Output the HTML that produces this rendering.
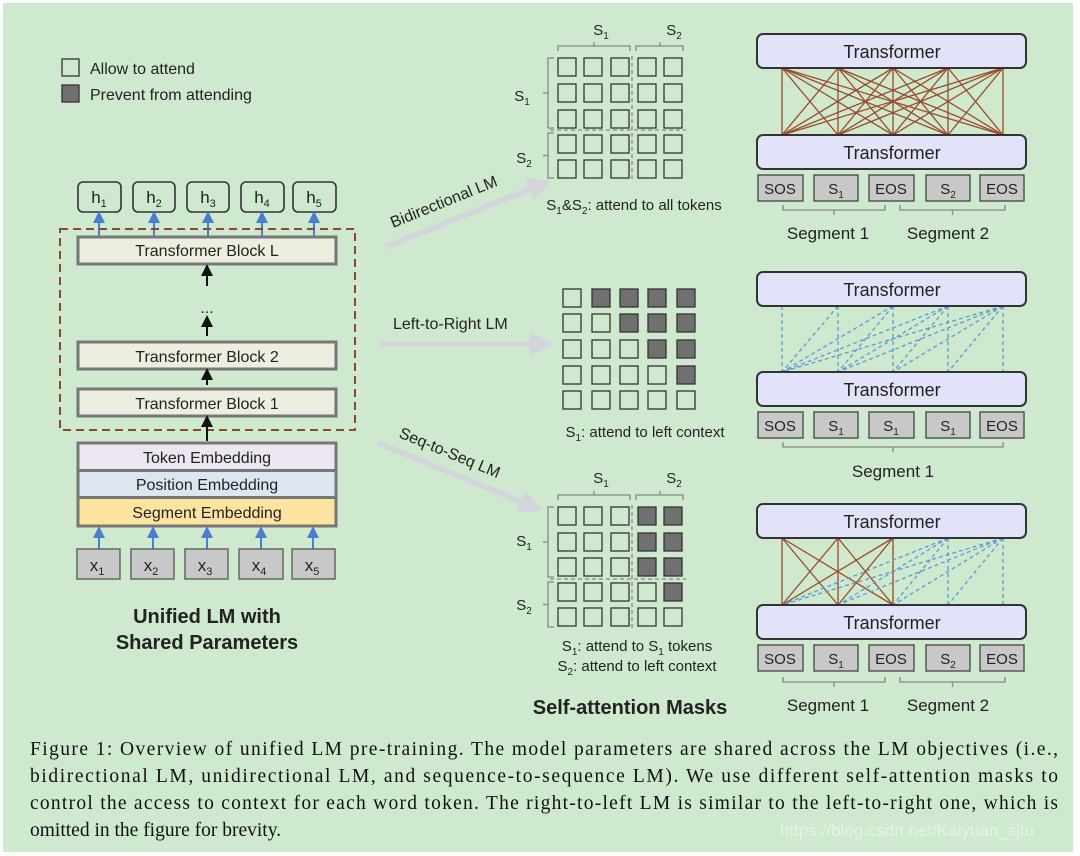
<!DOCTYPE html>
<html><head><meta charset="utf-8"><style>
html,body{margin:0;padding:0;background:#fff;}
svg{display:block;}
.t{font-family:"Liberation Sans",sans-serif;fill:#222;}
.c{font-family:"Liberation Serif",serif;fill:#111;font-size:19.5px;}
</style></head><body>
<svg id="s" width="1080" height="856" viewBox="0 0 1080 856" xmlns="http://www.w3.org/2000/svg">
<defs>
<marker id="ab" markerWidth="6" markerHeight="6" refX="3" refY="3" orient="auto"><path d="M0,0L6,3L0,6z" fill="#4a7fd0"/></marker>
<marker id="ak" markerWidth="6" markerHeight="6" refX="3" refY="3" orient="auto"><path d="M0,0L6,3L0,6z" fill="#111"/></marker>
<marker id="ag" markerWidth="4" markerHeight="4" refX="2" refY="2" orient="auto"><path d="M0,0L4,2L0,4z" fill="#d4d4dc"/></marker>
</defs>
<rect x="3" y="3" width="1070" height="849" fill="#cfe9cf"/>
<g id="g"></g>

<!-- legend -->
<rect x="62" y="59" width="17" height="17" fill="none" stroke="#333" stroke-width="1.3"/>
<rect x="62" y="85" width="17" height="17" fill="#707070" stroke="#333" stroke-width="1.3"/>
<text class="t" x="90" y="74" font-size="16">Allow to attend</text>
<text class="t" x="90" y="100" font-size="16">Prevent from attending</text>

<!-- h boxes -->
<g stroke="#333" stroke-width="1.6" fill="#cfe9cf">
<rect x="78" y="182" width="43" height="30" rx="5"/><rect x="133" y="182" width="42" height="30" rx="5"/><rect x="187" y="182" width="42" height="30" rx="5"/><rect x="241" y="182" width="43" height="30" rx="5"/><rect x="293" y="182" width="43" height="30" rx="5"/>
</g>
<g class="t" font-size="17" text-anchor="middle">
<text x="99" y="203">h<tspan font-size="11" dy="4">1</tspan></text>
<text x="154" y="203">h<tspan font-size="11" dy="4">2</tspan></text>
<text x="208" y="203">h<tspan font-size="11" dy="4">3</tspan></text>
<text x="262" y="203">h<tspan font-size="11" dy="4">4</tspan></text>
<text x="314" y="203">h<tspan font-size="11" dy="4">5</tspan></text>
</g>
<g stroke="#4a7fd0" stroke-width="2" marker-end="url(#ab)">
<line x1="99" y1="236" x2="99" y2="217"/><line x1="154" y1="236" x2="154" y2="217"/><line x1="208" y1="236" x2="208" y2="217"/><line x1="262" y1="236" x2="262" y2="217"/><line x1="314" y1="236" x2="314" y2="217"/>
<line x1="99" y1="549" x2="99" y2="532"/><line x1="153" y1="549" x2="153" y2="532"/><line x1="207" y1="549" x2="207" y2="532"/><line x1="261" y1="549" x2="261" y2="532"/><line x1="313" y1="549" x2="313" y2="532"/>
</g>
<rect x="60" y="229" width="295" height="201" fill="none" stroke="#8b4a2a" stroke-width="2" stroke-dasharray="8,5"/>
<g stroke="#777" stroke-width="3" fill="#eeeee0">
<rect x="78" y="237" width="258" height="27"/><rect x="78" y="342" width="258" height="27"/><rect x="78" y="389" width="258" height="27"/>
</g>
<g class="t" font-size="16" text-anchor="middle">
<text x="207" y="256">Transformer Block L</text>
<text x="207" y="362">Transformer Block 2</text>
<text x="207" y="409">Transformer Block 1</text>
<text x="207" y="313" font-size="16">...</text>
</g>
<g stroke="#111" stroke-width="2" marker-end="url(#ak)">
<line x1="207" y1="286" x2="207" y2="270"/><line x1="207" y1="336" x2="207" y2="321"/><line x1="207" y1="385" x2="207" y2="374"/><line x1="207" y1="441" x2="207" y2="421"/>
</g>
<rect x="79" y="444" width="256" height="26" fill="#ebe6f0"/>
<rect x="79" y="471" width="256" height="26" fill="#dde6f0"/>
<rect x="79" y="498" width="256" height="27" fill="#fde3a0"/>
<g stroke="#777" stroke-width="3" fill="none"><rect x="78" y="443" width="258" height="83"/><line x1="78" y1="470.5" x2="336" y2="470.5"/><line x1="78" y1="497.5" x2="336" y2="497.5"/></g>
<g class="t" font-size="16" text-anchor="middle">
<text x="207" y="463">Token Embedding</text>
<text x="207" y="490">Position Embedding</text>
<text x="207" y="518">Segment Embedding</text>
</g>
<g stroke="#555" stroke-width="1.3" fill="#c8c8c8">
<rect x="77" y="549" width="43" height="30"/><rect x="131" y="549" width="43" height="30"/><rect x="185" y="549" width="43" height="30"/><rect x="239" y="549" width="44" height="30"/><rect x="292" y="549" width="43" height="30"/>
</g>
<g class="t" font-size="17" text-anchor="middle" fill="#333">
<text x="97" y="571">x<tspan font-size="11" dy="4">1</tspan></text>
<text x="151" y="571">x<tspan font-size="11" dy="4">2</tspan></text>
<text x="205" y="571">x<tspan font-size="11" dy="4">3</tspan></text>
<text x="259" y="571">x<tspan font-size="11" dy="4">4</tspan></text>
<text x="312" y="571">x<tspan font-size="11" dy="4">5</tspan></text>
</g>
<g class="t" font-size="20" font-weight="bold" text-anchor="middle" fill="#111">
<text x="207" y="623">Unified LM with</text>
<text x="207" y="649">Shared Parameters</text>
</g>

<!-- arrows mid -->
<g stroke="#d4d4dc" stroke-width="6" marker-end="url(#ag)">
<line x1="386" y1="247" x2="540" y2="185"/>
<line x1="380" y1="344" x2="542" y2="344"/>
<line x1="378" y1="443" x2="532" y2="506"/>
</g>
<g class="t" font-size="16">
<text x="0" y="0" transform="translate(393,228) rotate(-22)">Bidirectional LM</text>
<text x="393" y="329">Left-to-Right LM</text>
<text x="0" y="0" transform="translate(398,437) rotate(22.5)">Seq-to-Seq LM</text>
</g>

<!-- grid labels -->
<g class="t" font-size="15" text-anchor="middle">
<text x="601" y="35">S<tspan font-size="10" dy="4">1</tspan></text>
<text x="674" y="35">S<tspan font-size="10" dy="4">2</tspan></text>
<text x="522" y="101">S<tspan font-size="10" dy="4">1</tspan></text>
<text x="524" y="163">S<tspan font-size="10" dy="4">2</tspan></text>
<text x="634" y="210">S<tspan font-size="10" dy="4">1</tspan><tspan dy="-4">&amp;S</tspan><tspan font-size="10" dy="4">2</tspan><tspan dy="-4">: attend to all tokens</tspan></text>
<text x="645" y="437">S<tspan font-size="10" dy="4">1</tspan><tspan dy="-4">: attend to left context</tspan></text>
<text x="601" y="483">S<tspan font-size="10" dy="4">1</tspan></text>
<text x="674" y="483">S<tspan font-size="10" dy="4">2</tspan></text>
<text x="524" y="546">S<tspan font-size="10" dy="4">1</tspan></text>
<text x="524" y="610">S<tspan font-size="10" dy="4">2</tspan></text>
<text x="637" y="651">S<tspan font-size="10" dy="4">1</tspan><tspan dy="-4">: attend to S</tspan><tspan font-size="10" dy="4">1</tspan><tspan dy="-4"> tokens</tspan></text>
<text x="637" y="671">S<tspan font-size="10" dy="4">2</tspan><tspan dy="-4">: attend to left context</tspan></text>
</g>
<text class="t" x="630" y="714" font-size="20" font-weight="bold" text-anchor="middle" fill="#111">Self-attention Masks</text>

<!-- transformers -->
<g stroke="#333" stroke-width="2" fill="#e2e2f8">
<rect x="757" y="34" width="269" height="34" rx="6"/><rect x="757" y="135" width="269" height="34" rx="6"/>
<rect x="757" y="272" width="269" height="34" rx="6"/><rect x="757" y="372" width="269" height="34" rx="6"/>
<rect x="757" y="504" width="269" height="34" rx="6"/><rect x="757" y="605" width="269" height="34" rx="6"/>
</g>
<g class="t" font-size="18" text-anchor="middle">
<text x="892" y="58">Transformer</text><text x="892" y="159">Transformer</text>
<text x="892" y="296">Transformer</text><text x="892" y="396">Transformer</text>
<text x="892" y="528">Transformer</text><text x="892" y="629">Transformer</text>
</g>
<g class="t" font-size="15" text-anchor="middle" fill="#333">
<text x="780" y="194">SOS</text><text x="836" y="194">S<tspan font-size="10" dy="4">1</tspan></text><text x="891" y="194">EOS</text><text x="948" y="194">S<tspan font-size="10" dy="4">2</tspan></text><text x="1002" y="194">EOS</text>
<text x="780" y="431">SOS</text><text x="836" y="431">S<tspan font-size="10" dy="4">1</tspan></text><text x="891" y="431">S<tspan font-size="10" dy="4">1</tspan></text><text x="948" y="431">S<tspan font-size="10" dy="4">1</tspan></text><text x="1002" y="431">EOS</text>
<text x="780" y="664">SOS</text><text x="836" y="664">S<tspan font-size="10" dy="4">1</tspan></text><text x="891" y="664">EOS</text><text x="948" y="664">S<tspan font-size="10" dy="4">2</tspan></text><text x="1002" y="664">EOS</text>
</g>
<g class="t" font-size="17" text-anchor="middle" fill="#333">
<text x="828" y="239">Segment 1</text><text x="948" y="239">Segment 2</text>
<text x="893" y="477">Segment 1</text>
<text x="828" y="711">Segment 1</text><text x="948" y="711">Segment 2</text>
</g>

<!-- caption -->
<g class="c">
<text x="30" y="755" textLength="1028" lengthAdjust="spacing">Figure 1: Overview of unified LM pre-training. The model parameters are shared across the LM objectives (i.e.,</text>
<text x="30" y="782" textLength="1028" lengthAdjust="spacing">bidirectional LM, unidirectional LM, and sequence-to-sequence LM). We use different self-attention masks to</text>
<text x="30" y="809" textLength="1028" lengthAdjust="spacing">control the access to context for each word token. The right-to-left LM is similar to the left-to-right one, which is</text>
<text x="30" y="836">omitted in the figure for brevity.</text>
</g>
<text x="780" y="836" font-family="Liberation Sans,sans-serif" font-size="17" fill="#e6f2e6">https://blog.csdn.net/Kaiyuan_sjtu</text>
</svg>
<script>
var g=document.getElementById('g'),NS='http://www.w3.org/2000/svg';
function el(n,a){var e=document.createElementNS(NS,n);for(var k in a)e.setAttribute(k,a[k]);g.appendChild(e);return e;}
function grid(xs,ys,dark){for(var r=0;r<5;r++)for(var c=0;c<5;c++)el('rect',{x:xs[c],y:ys[r],width:18,height:18,fill:dark(r,c)?'#707070':'none',stroke:'#333','stroke-width':1.3});}
var gx=[558,584,611,638,664];
grid(gx,[58,84,110,135,160],function(){return 0});
grid([563,592,620,648,677],[289,314,340,366,391],function(r,c){return c>r});
grid(gx,[507,533,558,583,608],function(r,c){return (r<3&&c>2)||(r==3&&c==4)});
function brackets(y0,rows1,rows2){
 var s={stroke:'#888','stroke-width':1.3,fill:'none'};
 el('path',Object.assign({d:'M558,'+(y0-7)+'V'+(y0-12)+'H630V'+(y0-7)+'M594,'+(y0-12)+'V'+(y0-16)},s));
 el('path',Object.assign({d:'M636,'+(y0-7)+'V'+(y0-12)+'H683V'+(y0-7)+'M660,'+(y0-12)+'V'+(y0-16)},s));
 el('path',Object.assign({d:'M554,'+rows1[0]+'H548V'+rows1[1]+'H554M548,'+((rows1[0]+rows1[1])/2)+'H543'},s));
 el('path',Object.assign({d:'M554,'+rows2[0]+'H548V'+rows2[1]+'H554M548,'+((rows2[0]+rows2[1])/2)+'H543'},s));
 el('line',Object.assign({x1:632,y1:y0-2,x2:632,y2:y0+122,'stroke-dasharray':'4,3'},s));
 el('line',Object.assign({x1:550,y1:y0+72,x2:686,y2:y0+72,'stroke-dasharray':'4,3'},s));
}
brackets(58,[58,128],[133,178]);
brackets(507,[507,577],[582,627]);
var X=[782,838,893,948,1003];
function ln(x1,y1,x2,y2,col,d){var a={x1:x1,y1:y1,x2:x2,y2:y2,stroke:col,'stroke-width':1.3};if(d)a['stroke-dasharray']='4,3';el('line',a);}
for(var i=0;i<5;i++)for(var j=0;j<5;j++)ln(X[i],68,X[j],135,'#9a4a28');
for(var i=0;i<5;i++)for(var j=0;j<=i;j++)ln(X[i],306,X[j],372,'#5a9ad8',1);
for(var i=0;i<3;i++)for(var j=0;j<3;j++)ln(X[i],538,X[j],605,'#9a4a28');
for(var i=3;i<5;i++)for(var j=0;j<=i;j++)ln(X[i],538,X[j],605,'#5a9ad8',1);
// token boxes
function toks(y){var xs=[758,814,869,926,980],ws=[45,44,45,44,44];for(var k=0;k<5;k++){var r=el('rect',{x:xs[k],y:y,width:ws[k],height:26,fill:'#c8c8c8',stroke:'#444','stroke-width':1.3});}}
toks(175);toks(412);toks(645);
function seg(y,a,b){el('path',{d:'M'+a+','+(y-5)+'V'+y+'H'+b+'V'+(y-5)+'M'+((a+b)/2)+','+y+'V'+(y+5),stroke:'#888','stroke-width':1.3,fill:'none'});}
seg(210,783,885);seg(210,900,1005);seg(447,783,1003);seg(682,783,885);seg(682,900,1005);
// move g to back just above bg
var s=document.getElementById('s');s.insertBefore(g,s.children[2]);
</script>
</body></html>
